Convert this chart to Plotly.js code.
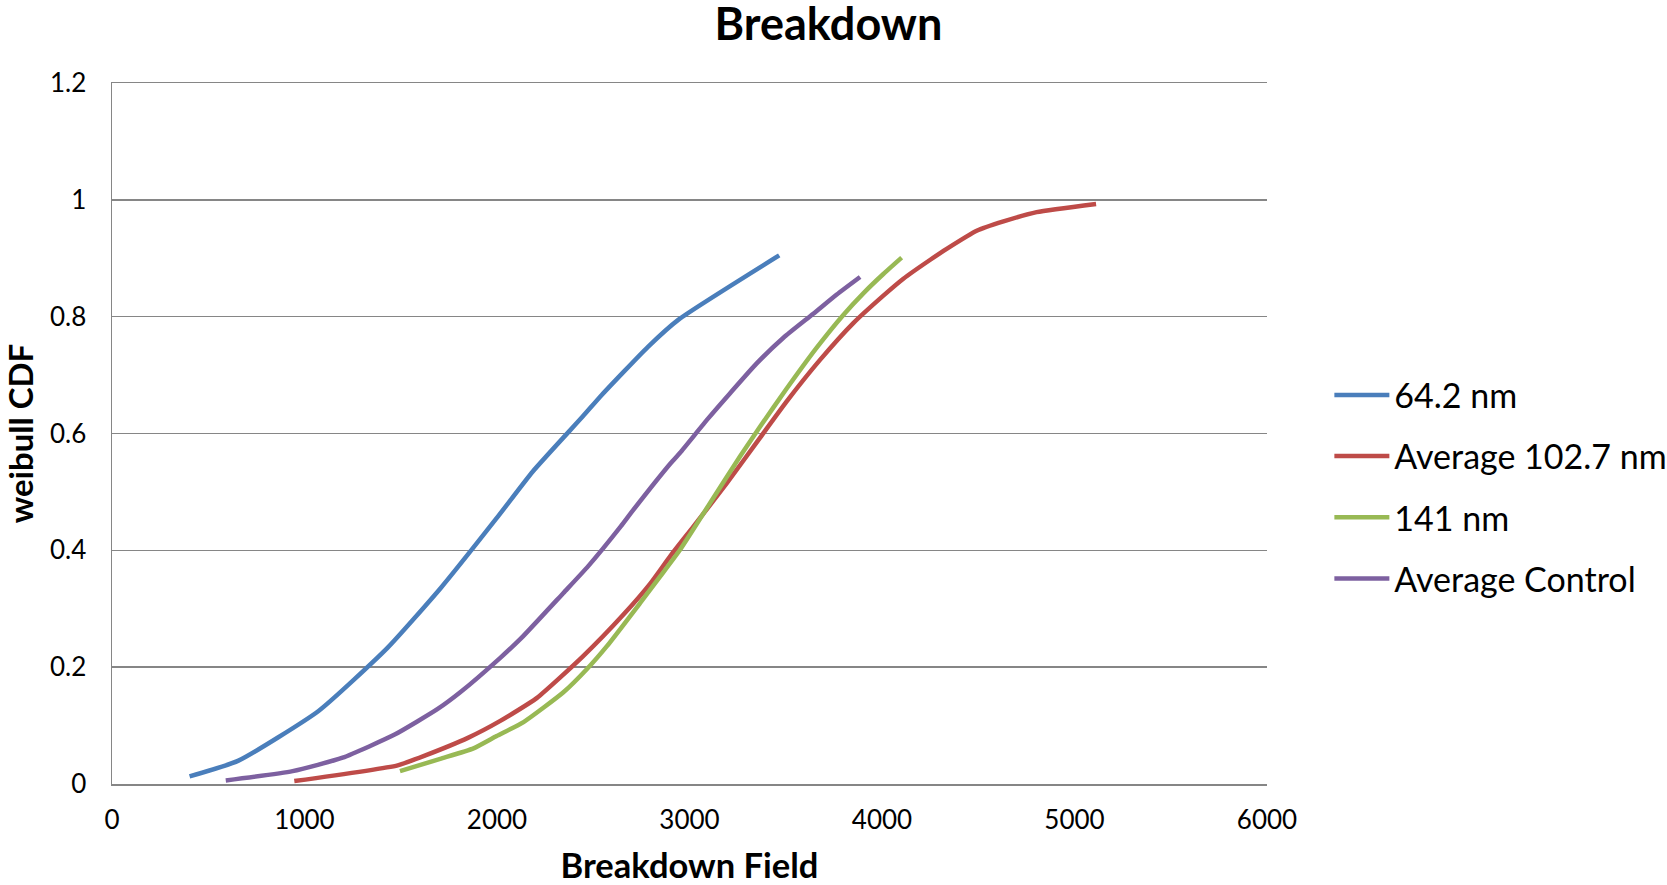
<!DOCTYPE html>
<html>
<head>
<meta charset="utf-8">
<script src="https://cdn.plot.ly/plotly-3.0.1.min.js"></script>
<style>html,body{margin:0;padding:0;background:#fff;}#chart{width:1667px;height:885px;}</style>
</head>
<body>
<div id="chart"></div>
<script>
// Series names
const seriesNames = ["64.2 nm", "Average 102.7 nm", "141 nm", "Average Control"];

// 64.2 nm
const blueX = [403, 657, 1073, 1431, 1709, 1998, 2186, 2445, 2544, 2783, 2943, 3466];
const blueY = [0.013, 0.040, 0.125, 0.233, 0.336, 0.455, 0.535, 0.629, 0.666, 0.748, 0.795, 0.905];

// Average 102.7 nm
const redX = [947, 1484, 1628, 1849, 2017, 2206, 2445, 2657, 2796, 2902, 3021, 3194, 3367, 3505, 3678, 3851, 4007, 4111, 4249, 4336, 4492, 4631, 4803, 5112];
const redY = [0.005, 0.032, 0.049, 0.079, 0.108, 0.147, 0.218, 0.290, 0.343, 0.391, 0.441, 0.515, 0.593, 0.655, 0.726, 0.789, 0.836, 0.865, 0.897, 0.916, 0.947, 0.963, 0.979, 0.993];

// 141 nm
const greenX = [1496, 1705, 1878, 1998, 2138, 2345, 2465, 2571, 2744, 2847, 2951, 3107, 3263, 3367, 3505, 3661, 3799, 3903, 4007, 4102];
const greenY = [0.022, 0.043, 0.061, 0.082, 0.106, 0.157, 0.196, 0.236, 0.310, 0.355, 0.401, 0.481, 0.561, 0.612, 0.677, 0.747, 0.803, 0.840, 0.873, 0.901];

// Average Control
const purpleX = [591, 938, 1198, 1471, 1690, 1809, 2017, 2127, 2345, 2474, 2643, 2703, 2902, 2951, 3095, 3211, 3349, 3488, 3643, 3765, 3886];
const purpleY = [0.006, 0.022, 0.045, 0.085, 0.128, 0.157, 0.216, 0.250, 0.327, 0.373, 0.441, 0.467, 0.549, 0.567, 0.625, 0.669, 0.720, 0.764, 0.805, 0.838, 0.868];

const colors = ["#4A7EBB", "#BE4B48", "#98B954", "#7D60A0"];
const xs = [blueX, redX, greenX, purpleX];
const ys = [blueY, redY, greenY, purpleY];

const traces = seriesNames.map((n, i) => ({
  x: xs[i], y: ys[i], name: n, type: "scatter", mode: "lines",
  legendgroup: "g" + i,
  line: {color: colors[i], width: 4.5, shape: "spline", smoothing: 0.5}
}));

const font = "Lato, 'Open Sans', sans-serif";
const layout = {
  width: 1667, height: 885,
  margin: {l: 112, r: 400, t: 83, b: 101, autoexpand: false},
  paper_bgcolor: "#fff", plot_bgcolor: "#fff",
  font: {family: font, color: "#000"},
  title: {text: "<b>Breakdown</b>", font: {size: 45, family: font, color: "#000"},
          x: 0.497, xref: "container", xanchor: "center", y: 0.973, yref: "container", yanchor: "middle",
          pad: {t: 0, b: 0}},
  xaxis: {
    range: [0, 6000], dtick: 1000, tick0: 0, tickformat: "d",
    showgrid: false, zeroline: false,
    showline: true, mirror: true, linecolor: "#868686", linewidth: 1.5,
    ticks: "", ticklabelstandoff: 12,
    tickfont: {size: 26, family: font, color: "#000"},
    title: {text: "<b>Breakdown Field</b>", font: {size: 34.5, family: font, color: "#000"}, standoff: 24},
    automargin: false
  },
  yaxis: {
    range: [0, 1.2], dtick: 0.2, tick0: 0,
    showgrid: true, gridcolor: "#868686", gridwidth: 1.5,
    zeroline: false, showline: true, linecolor: "#868686", linewidth: 1.5,
    ticks: "", ticklabelstandoff: 19,
    tickfont: {size: 26, family: font, color: "#000"},
    title: {text: "<b>weibull CDF</b>", font: {size: 33, family: font, color: "#000"}, standoff: 14},
    automargin: false
  },
  showlegend: true,
  legend: {
    x: 1.054, xanchor: "left", y: 0.424, yanchor: "middle",
    font: {size: 34, family: font, color: "#000"},
    itemwidth: 55, tracegroupgap: 14, bgcolor: "rgba(0,0,0,0)"
  }
};

Plotly.newPlot("chart", traces, layout, {displayModeBar: false, staticPlot: true});
</script>
</body>
</html>
